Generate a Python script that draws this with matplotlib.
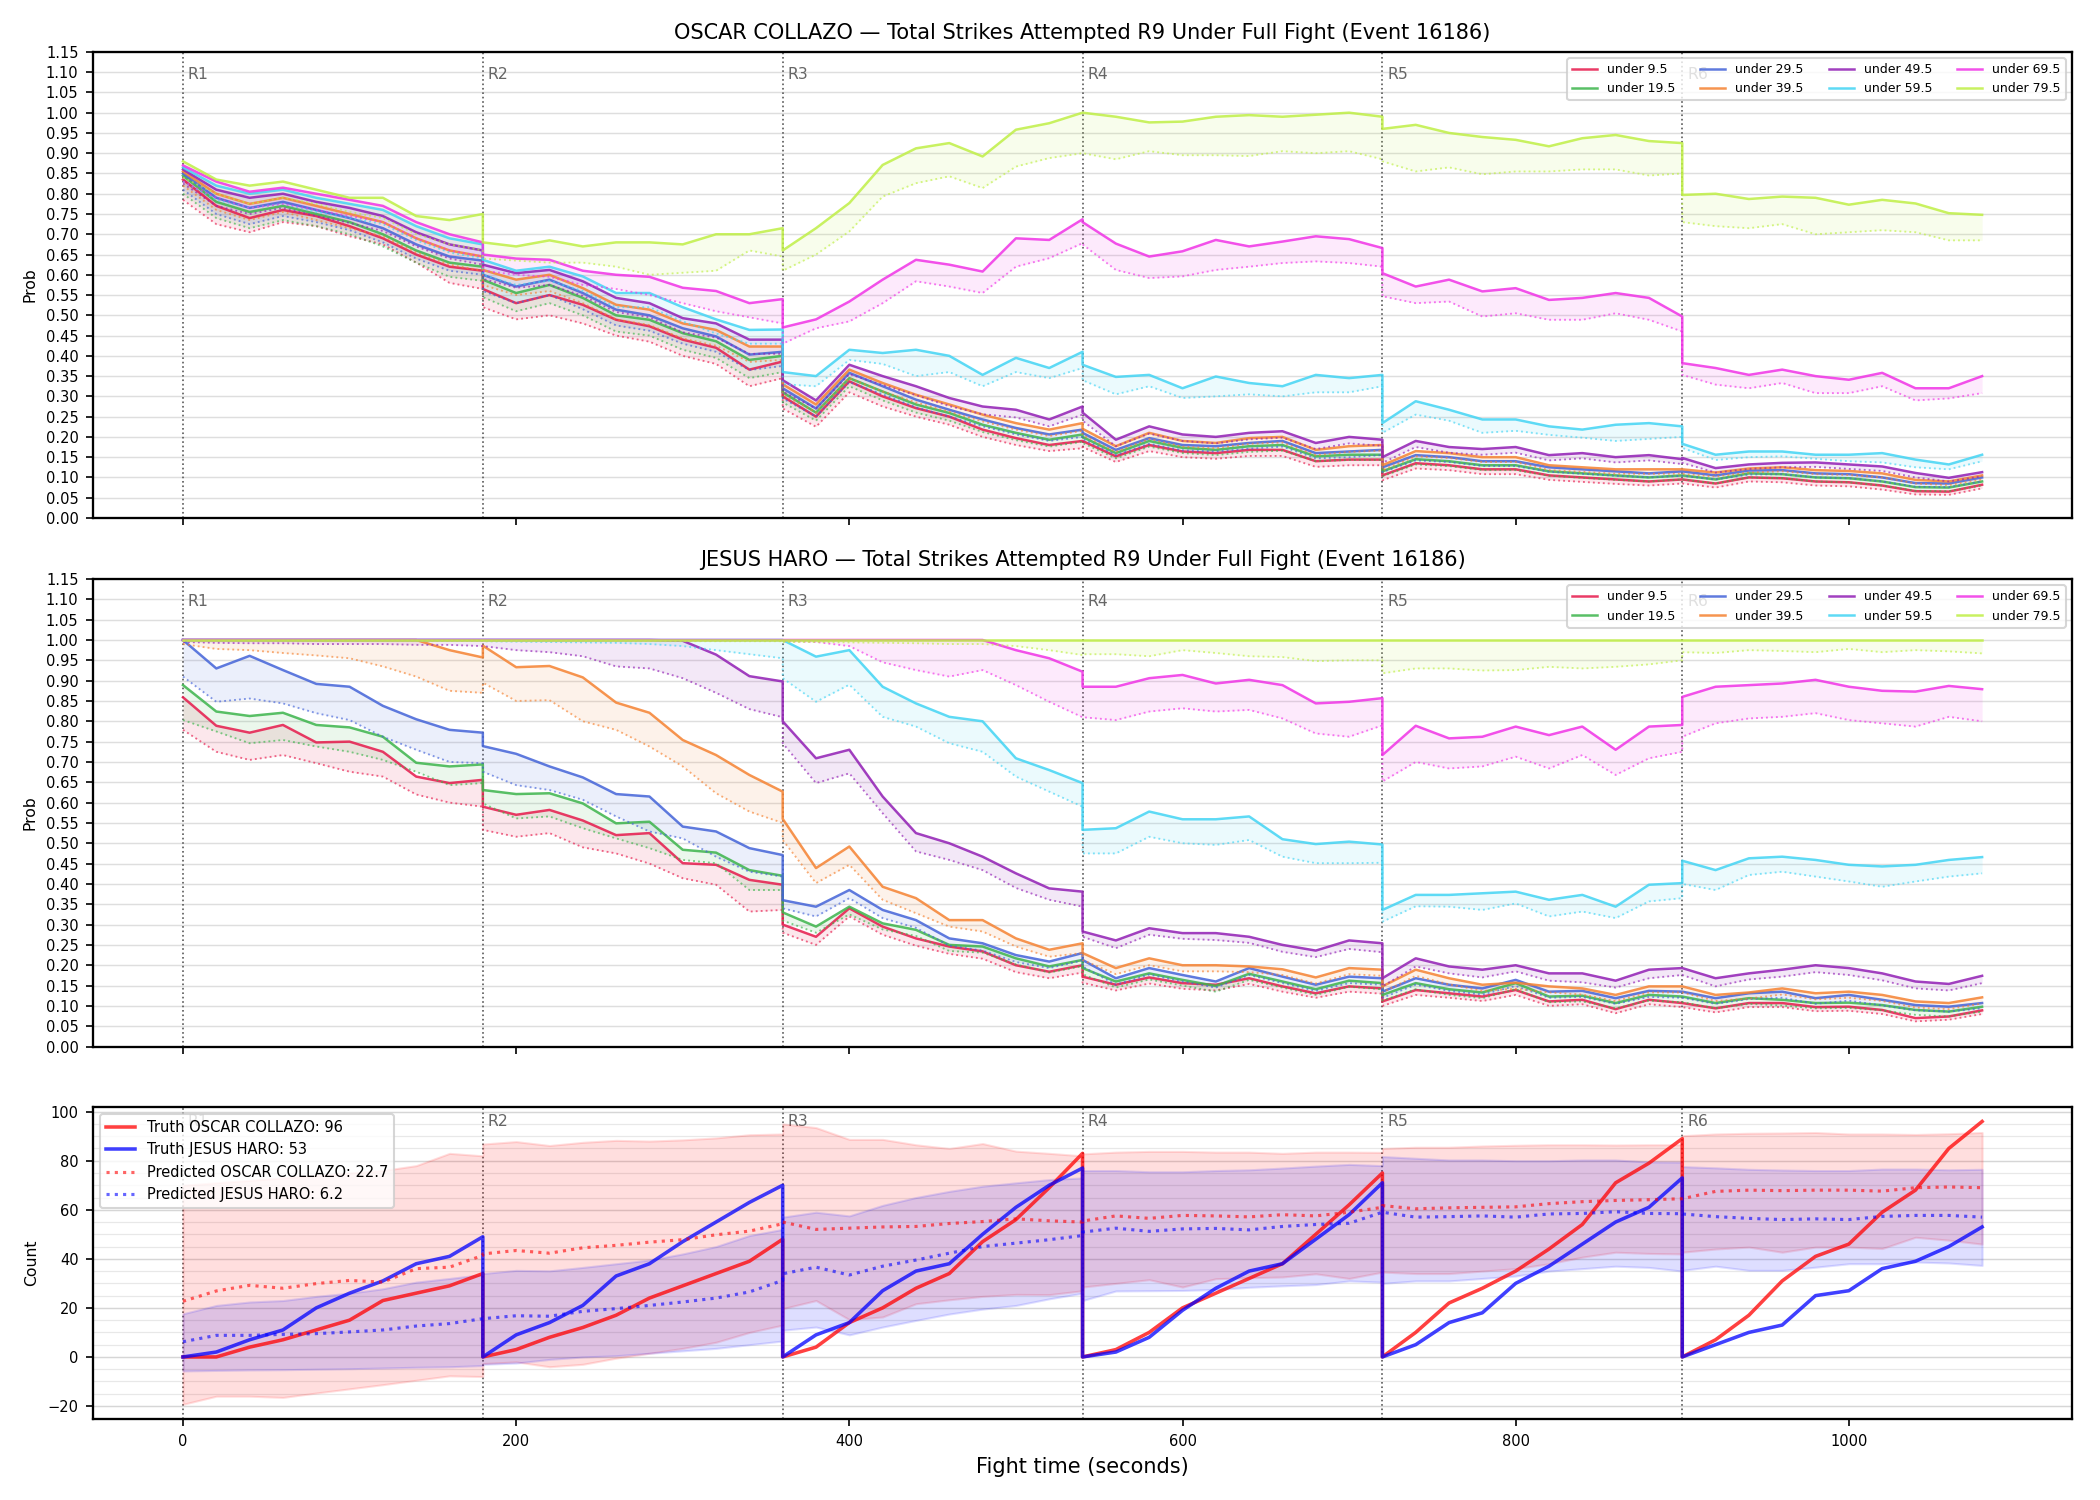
import numpy as np
import matplotlib.pyplot as plt
from matplotlib.ticker import MultipleLocator, FormatStrFormatter

round_starts = [0, 180, 360, 540, 720, 900]
round_names = ['R1', 'R2', 'R3', 'R4', 'R5', 'R6']
secs_in_round = [0, 20, 40, 60, 80, 100, 120, 140, 160, 180]

line_labels = ['under 9.5', 'under 19.5', 'under 29.5', 'under 39.5',
               'under 49.5', 'under 59.5', 'under 69.5', 'under 79.5']
line_colors = ['#e6194b', '#3cb44b', '#4363d8', '#f58231',
               '#911eb4', '#42d4f4', '#f032e6', '#bfef45']

# ---------------- OSCAR COLLAZO (line + dotted lower bound) ----------------
oc_u09 = [0.835, 0.77, 0.74, 0.76, 0.745, 0.72, 0.69, 0.65, 0.62, 0.61,
          0.565, 0.53, 0.55, 0.526, 0.489, 0.473, 0.44, 0.42, 0.366, 0.386,
          0.30, 0.25, 0.337, 0.30, 0.271, 0.25, 0.218, 0.197, 0.18, 0.19,
          0.19, 0.152, 0.18, 0.164, 0.16, 0.168, 0.168, 0.14, 0.144, 0.144,
          0.105, 0.135, 0.13, 0.12, 0.12, 0.105, 0.10, 0.095, 0.09, 0.095,
          0.095, 0.085, 0.10, 0.098, 0.09, 0.088, 0.08, 0.066, 0.065, 0.082]
oc_u09_lo = [0.785, 0.725, 0.705, 0.73, 0.72, 0.695, 0.675, 0.63, 0.58, 0.565,
             0.52, 0.49, 0.50, 0.48, 0.45, 0.435, 0.40, 0.38, 0.325, 0.345,
             0.27, 0.225, 0.31, 0.275, 0.25, 0.23, 0.20, 0.18, 0.165, 0.172,
             0.175, 0.138, 0.165, 0.15, 0.146, 0.153, 0.153, 0.126, 0.13, 0.13,
             0.093, 0.122, 0.118, 0.108, 0.108, 0.094, 0.089, 0.084, 0.08, 0.085,
             0.085, 0.075, 0.09, 0.088, 0.08, 0.078, 0.07, 0.058, 0.057, 0.073]
oc_u19 = [0.845, 0.78, 0.755, 0.77, 0.75, 0.73, 0.70, 0.66, 0.63, 0.62,
          0.588, 0.555, 0.575, 0.543, 0.50, 0.489, 0.456, 0.436, 0.39, 0.40,
          0.31, 0.26, 0.345, 0.312, 0.28, 0.259, 0.23, 0.21, 0.193, 0.206,
          0.20, 0.16, 0.19, 0.173, 0.168, 0.177, 0.18, 0.152, 0.156, 0.156,
          0.115, 0.145, 0.14, 0.13, 0.13, 0.115, 0.11, 0.105, 0.10, 0.105,
          0.105, 0.095, 0.11, 0.108, 0.10, 0.098, 0.09, 0.076, 0.075, 0.09]
oc_u19_lo = [0.80, 0.74, 0.715, 0.735, 0.72, 0.70, 0.67, 0.63, 0.595, 0.585,
             0.545, 0.51, 0.53, 0.50, 0.46, 0.45, 0.415, 0.395, 0.345, 0.36,
             0.285, 0.24, 0.325, 0.29, 0.26, 0.24, 0.212, 0.192, 0.176, 0.188,
             0.185, 0.147, 0.176, 0.16, 0.155, 0.163, 0.166, 0.14, 0.143, 0.143,
             0.103, 0.132, 0.128, 0.118, 0.118, 0.104, 0.099, 0.094, 0.09, 0.095,
             0.095, 0.085, 0.10, 0.098, 0.09, 0.088, 0.08, 0.067, 0.066, 0.08]
oc_u29 = [0.85, 0.79, 0.765, 0.78, 0.76, 0.74, 0.715, 0.675, 0.645, 0.635,
          0.60, 0.571, 0.588, 0.555, 0.514, 0.50, 0.468, 0.448, 0.403, 0.41,
          0.32, 0.27, 0.358, 0.325, 0.292, 0.267, 0.243, 0.222, 0.206, 0.218,
          0.21, 0.168, 0.197, 0.18, 0.177, 0.185, 0.19, 0.16, 0.164, 0.168,
          0.125, 0.155, 0.15, 0.14, 0.14, 0.125, 0.12, 0.115, 0.11, 0.115,
          0.115, 0.105, 0.117, 0.118, 0.11, 0.108, 0.10, 0.086, 0.085, 0.10]
oc_u29_lo = [0.81, 0.75, 0.725, 0.745, 0.73, 0.71, 0.68, 0.64, 0.61, 0.60,
             0.56, 0.53, 0.55, 0.515, 0.475, 0.462, 0.43, 0.41, 0.365, 0.375,
             0.295, 0.25, 0.335, 0.305, 0.273, 0.25, 0.226, 0.206, 0.19, 0.20,
             0.195, 0.155, 0.183, 0.167, 0.164, 0.171, 0.176, 0.147, 0.15, 0.155,
             0.113, 0.142, 0.138, 0.128, 0.128, 0.114, 0.109, 0.104, 0.10, 0.104,
             0.104, 0.095, 0.107, 0.108, 0.10, 0.098, 0.09, 0.077, 0.076, 0.09]
oc_u39 = [0.855, 0.80, 0.775, 0.79, 0.77, 0.75, 0.73, 0.69, 0.66, 0.645,
          0.612, 0.588, 0.60, 0.567, 0.526, 0.514, 0.48, 0.464, 0.423, 0.423,
          0.33, 0.28, 0.366, 0.333, 0.304, 0.28, 0.255, 0.234, 0.218, 0.234,
          0.22, 0.177, 0.21, 0.19, 0.185, 0.197, 0.20, 0.168, 0.177, 0.18,
          0.13, 0.165, 0.16, 0.15, 0.15, 0.13, 0.125, 0.12, 0.12, 0.12,
          0.12, 0.112, 0.122, 0.125, 0.118, 0.116, 0.11, 0.094, 0.09, 0.105]
oc_u39_lo = [0.82, 0.76, 0.735, 0.755, 0.735, 0.715, 0.695, 0.655, 0.625, 0.61,
             0.575, 0.55, 0.56, 0.53, 0.49, 0.476, 0.443, 0.425, 0.385, 0.39,
             0.305, 0.26, 0.345, 0.312, 0.285, 0.262, 0.238, 0.218, 0.202, 0.215,
             0.205, 0.163, 0.195, 0.176, 0.172, 0.183, 0.186, 0.155, 0.163, 0.166,
             0.118, 0.152, 0.148, 0.138, 0.138, 0.118, 0.114, 0.109, 0.109, 0.109,
             0.109, 0.102, 0.112, 0.115, 0.108, 0.106, 0.10, 0.085, 0.081, 0.095]
oc_u49 = [0.86, 0.81, 0.79, 0.80, 0.78, 0.765, 0.745, 0.705, 0.675, 0.66,
          0.625, 0.604, 0.612, 0.584, 0.543, 0.53, 0.493, 0.48, 0.44, 0.44,
          0.34, 0.29, 0.378, 0.35, 0.325, 0.296, 0.275, 0.267, 0.243, 0.275,
          0.26, 0.193, 0.226, 0.206, 0.20, 0.21, 0.214, 0.185, 0.20, 0.193,
          0.15, 0.19, 0.175, 0.17, 0.175, 0.155, 0.16, 0.15, 0.155, 0.145,
          0.148, 0.123, 0.132, 0.136, 0.137, 0.132, 0.127, 0.111, 0.099, 0.113]
oc_u49_lo = [0.825, 0.77, 0.75, 0.765, 0.745, 0.728, 0.708, 0.67, 0.64, 0.625,
             0.59, 0.568, 0.575, 0.548, 0.508, 0.495, 0.458, 0.445, 0.405, 0.405,
             0.312, 0.27, 0.355, 0.328, 0.303, 0.276, 0.256, 0.248, 0.226, 0.255,
             0.24, 0.177, 0.208, 0.19, 0.184, 0.194, 0.198, 0.17, 0.184, 0.178,
             0.136, 0.175, 0.161, 0.156, 0.161, 0.142, 0.147, 0.137, 0.142, 0.133,
             0.136, 0.112, 0.121, 0.125, 0.126, 0.121, 0.116, 0.10, 0.09, 0.103]
oc_u59 = [0.865, 0.82, 0.80, 0.81, 0.79, 0.775, 0.76, 0.72, 0.69, 0.675,
          0.637, 0.61, 0.62, 0.596, 0.555, 0.555, 0.52, 0.49, 0.464, 0.465,
          0.36, 0.35, 0.415, 0.407, 0.415, 0.40, 0.353, 0.395, 0.37, 0.41,
          0.378, 0.348, 0.353, 0.32, 0.349, 0.333, 0.325, 0.353, 0.345, 0.353,
          0.234, 0.288, 0.267, 0.243, 0.243, 0.226, 0.218, 0.23, 0.234, 0.226,
          0.183, 0.156, 0.164, 0.164, 0.156, 0.156, 0.16, 0.144, 0.132, 0.156]
oc_u59_lo = [0.83, 0.785, 0.765, 0.775, 0.755, 0.74, 0.725, 0.685, 0.655, 0.64,
             0.60, 0.575, 0.585, 0.56, 0.52, 0.52, 0.485, 0.455, 0.43, 0.43,
             0.33, 0.325, 0.39, 0.38, 0.35, 0.36, 0.325, 0.36, 0.345, 0.37,
             0.34, 0.305, 0.325, 0.296, 0.30, 0.305, 0.30, 0.31, 0.31, 0.325,
             0.21, 0.255, 0.24, 0.21, 0.215, 0.205, 0.198, 0.19, 0.195, 0.20,
             0.173, 0.143, 0.15, 0.152, 0.146, 0.14, 0.137, 0.125, 0.12, 0.14]
oc_u69 = [0.87, 0.83, 0.805, 0.815, 0.80, 0.785, 0.77, 0.73, 0.70, 0.68,
          0.65, 0.64, 0.637, 0.61, 0.60, 0.595, 0.568, 0.56, 0.53, 0.54,
          0.47, 0.49, 0.534, 0.588, 0.637, 0.625, 0.608, 0.69, 0.686, 0.737,
          0.73, 0.677, 0.645, 0.658, 0.686, 0.67, 0.682, 0.695, 0.688, 0.666,
          0.604, 0.571, 0.588, 0.559, 0.567, 0.538, 0.543, 0.555, 0.543, 0.497,
          0.382, 0.37, 0.353, 0.366, 0.35, 0.341, 0.358, 0.32, 0.32, 0.35]
oc_u69_lo = [0.83, 0.79, 0.765, 0.775, 0.76, 0.745, 0.73, 0.69, 0.66, 0.645,
             0.61, 0.60, 0.595, 0.575, 0.565, 0.55, 0.53, 0.51, 0.495, 0.48,
             0.43, 0.468, 0.485, 0.53, 0.584, 0.571, 0.555, 0.62, 0.641, 0.678,
             0.675, 0.612, 0.592, 0.596, 0.612, 0.62, 0.629, 0.633, 0.629, 0.62,
             0.547, 0.53, 0.534, 0.497, 0.505, 0.489, 0.489, 0.505, 0.489, 0.46,
             0.353, 0.329, 0.32, 0.333, 0.308, 0.308, 0.325, 0.29, 0.295, 0.308]
oc_u79 = [0.88, 0.835, 0.82, 0.83, 0.81, 0.79, 0.79, 0.745, 0.735, 0.75,
          0.68, 0.67, 0.685, 0.67, 0.68, 0.68, 0.675, 0.70, 0.70, 0.715,
          0.66, 0.715, 0.777, 0.871, 0.912, 0.925, 0.892, 0.958, 0.974, 1.0,
          1.0, 0.99, 0.976, 0.978, 0.99, 0.994, 0.99, 0.995, 1.0, 0.99,
          0.96, 0.97, 0.95, 0.94, 0.933, 0.917, 0.937, 0.945, 0.93, 0.925,
          0.797, 0.80, 0.787, 0.793, 0.79, 0.773, 0.785, 0.776, 0.752, 0.748]
oc_u79_lo = [0.84, 0.80, 0.775, 0.79, 0.775, 0.755, 0.74, 0.70, 0.675, 0.66,
             0.64, 0.635, 0.63, 0.63, 0.62, 0.60, 0.605, 0.61, 0.66, 0.645,
             0.61, 0.65, 0.707, 0.793, 0.826, 0.843, 0.814, 0.867, 0.888, 0.90,
             0.90, 0.885, 0.905, 0.895, 0.895, 0.893, 0.905, 0.90, 0.905, 0.885,
             0.88, 0.855, 0.865, 0.848, 0.855, 0.855, 0.86, 0.86, 0.845, 0.85,
             0.73, 0.72, 0.715, 0.725, 0.70, 0.705, 0.71, 0.705, 0.685, 0.685]

# ---------------- JESUS HARO ----------------
jh_u09 = [0.859, 0.789, 0.772, 0.791, 0.748, 0.75, 0.725, 0.664, 0.648, 0.656,
          0.59, 0.57, 0.582, 0.556, 0.52, 0.525, 0.451, 0.447, 0.41, 0.398,
          0.30, 0.27, 0.34, 0.295, 0.266, 0.246, 0.234, 0.20, 0.184, 0.20,
          0.172, 0.152, 0.17, 0.156, 0.152, 0.168, 0.148, 0.131, 0.148, 0.143,
          0.111, 0.139, 0.131, 0.123, 0.139, 0.111, 0.115, 0.092, 0.115, 0.107,
          0.107, 0.094, 0.107, 0.107, 0.097, 0.098, 0.09, 0.07, 0.074, 0.089]
jh_u09_lo = [0.779, 0.725, 0.705, 0.717, 0.697, 0.676, 0.664, 0.62, 0.60, 0.59,
             0.533, 0.516, 0.525, 0.49, 0.475, 0.45, 0.414, 0.398, 0.332, 0.336,
             0.28, 0.25, 0.32, 0.275, 0.248, 0.228, 0.216, 0.183, 0.168, 0.182,
             0.157, 0.138, 0.155, 0.142, 0.138, 0.154, 0.135, 0.12, 0.135, 0.13,
             0.10, 0.127, 0.12, 0.112, 0.127, 0.10, 0.104, 0.082, 0.104, 0.097,
             0.097, 0.084, 0.097, 0.097, 0.087, 0.088, 0.08, 0.062, 0.066, 0.08]
jh_u19 = [0.889, 0.824, 0.813, 0.821, 0.791, 0.785, 0.762, 0.698, 0.689, 0.694,
          0.631, 0.621, 0.623, 0.598, 0.549, 0.553, 0.484, 0.477, 0.434, 0.42,
          0.33, 0.295, 0.344, 0.303, 0.287, 0.25, 0.246, 0.217, 0.197, 0.213,
          0.193, 0.16, 0.18, 0.164, 0.149, 0.179, 0.16, 0.141, 0.162, 0.156,
          0.127, 0.156, 0.141, 0.133, 0.156, 0.123, 0.125, 0.107, 0.127, 0.123,
          0.123, 0.107, 0.119, 0.115, 0.107, 0.108, 0.102, 0.09, 0.086, 0.098]
jh_u19_lo = [0.803, 0.775, 0.746, 0.754, 0.738, 0.725, 0.705, 0.676, 0.643, 0.648,
             0.598, 0.561, 0.566, 0.537, 0.512, 0.488, 0.459, 0.451, 0.385, 0.385,
             0.31, 0.28, 0.325, 0.288, 0.272, 0.235, 0.231, 0.202, 0.182, 0.198,
             0.178, 0.145, 0.165, 0.15, 0.135, 0.164, 0.145, 0.127, 0.147, 0.141,
             0.113, 0.141, 0.127, 0.119, 0.141, 0.109, 0.111, 0.094, 0.113, 0.109,
             0.109, 0.094, 0.105, 0.101, 0.094, 0.095, 0.089, 0.078, 0.074, 0.086]
jh_u29 = [1.0, 0.93, 0.961, 0.926, 0.892, 0.885, 0.838, 0.805, 0.779, 0.772,
          0.739, 0.72, 0.689, 0.662, 0.621, 0.615, 0.541, 0.529, 0.488, 0.471,
          0.36, 0.344, 0.385, 0.336, 0.311, 0.266, 0.254, 0.225, 0.209, 0.23,
          0.213, 0.168, 0.193, 0.176, 0.16, 0.193, 0.172, 0.152, 0.172, 0.168,
          0.135, 0.168, 0.152, 0.143, 0.164, 0.135, 0.137, 0.119, 0.137, 0.135,
          0.135, 0.119, 0.131, 0.135, 0.119, 0.127, 0.115, 0.102, 0.098, 0.107]
jh_u29_lo = [0.91, 0.848, 0.856, 0.844, 0.82, 0.803, 0.762, 0.73, 0.70, 0.697,
             0.676, 0.643, 0.631, 0.607, 0.566, 0.529, 0.512, 0.467, 0.43, 0.418,
             0.34, 0.32, 0.365, 0.316, 0.292, 0.248, 0.236, 0.208, 0.193, 0.212,
             0.197, 0.152, 0.177, 0.16, 0.145, 0.176, 0.156, 0.137, 0.156, 0.152,
             0.12, 0.152, 0.137, 0.128, 0.149, 0.12, 0.122, 0.105, 0.122, 0.12,
             0.12, 0.105, 0.117, 0.12, 0.105, 0.113, 0.101, 0.089, 0.086, 0.094]
jh_u39 = [1.0, 1.0, 1.0, 1.0, 1.0, 1.0, 1.0, 1.0, 0.975, 0.957,
          0.986, 0.933, 0.936, 0.908, 0.846, 0.821, 0.754, 0.717, 0.668, 0.627,
          0.56, 0.439, 0.492, 0.393, 0.365, 0.311, 0.311, 0.266, 0.238, 0.254,
          0.23, 0.193, 0.217, 0.20, 0.20, 0.197, 0.19, 0.17, 0.193, 0.189,
          0.148, 0.189, 0.168, 0.152, 0.157, 0.148, 0.143, 0.127, 0.148, 0.148,
          0.148, 0.127, 0.133, 0.143, 0.131, 0.135, 0.127, 0.111, 0.107, 0.121]
jh_u39_lo = [0.99, 0.978, 0.975, 0.968, 0.962, 0.955, 0.935, 0.91, 0.875, 0.87,
             0.895, 0.85, 0.852, 0.80, 0.779, 0.738, 0.689, 0.623, 0.578, 0.55,
             0.508, 0.402, 0.447, 0.361, 0.328, 0.295, 0.283, 0.246, 0.221, 0.23,
             0.213, 0.178, 0.20, 0.185, 0.185, 0.183, 0.176, 0.155, 0.178, 0.174,
             0.133, 0.174, 0.153, 0.137, 0.142, 0.133, 0.128, 0.112, 0.133, 0.133,
             0.133, 0.112, 0.118, 0.128, 0.116, 0.12, 0.112, 0.096, 0.092, 0.106]
jh_u49 = [1.0, 1.0, 1.0, 1.0, 1.0, 1.0, 1.0, 1.0, 1.0, 1.0,
          1.0, 1.0, 1.0, 1.0, 1.0, 1.0, 0.998, 0.964, 0.911, 0.898,
          0.80, 0.709, 0.73, 0.615, 0.525, 0.50, 0.467, 0.426, 0.389, 0.381,
          0.283, 0.261, 0.291, 0.279, 0.279, 0.27, 0.25, 0.236, 0.261, 0.254,
          0.168, 0.217, 0.197, 0.189, 0.20, 0.18, 0.18, 0.162, 0.189, 0.193,
          0.193, 0.168, 0.18, 0.189, 0.20, 0.193, 0.18, 0.16, 0.154, 0.174]
jh_u49_lo = [0.995, 0.993, 0.992, 0.992, 0.99, 0.99, 0.99, 0.988, 0.988, 0.985,
             0.985, 0.975, 0.97, 0.96, 0.935, 0.93, 0.906, 0.87, 0.83, 0.81,
             0.746, 0.648, 0.672, 0.574, 0.48, 0.459, 0.434, 0.39, 0.361, 0.344,
             0.27, 0.242, 0.275, 0.265, 0.262, 0.255, 0.233, 0.22, 0.24, 0.232,
             0.148, 0.197, 0.18, 0.17, 0.185, 0.162, 0.158, 0.145, 0.168, 0.176,
             0.176, 0.148, 0.165, 0.172, 0.183, 0.176, 0.163, 0.143, 0.138, 0.156]
jh_u59 = [1.0, 1.0, 1.0, 1.0, 1.0, 1.0, 1.0, 1.0, 1.0, 1.0,
          1.0, 1.0, 1.0, 1.0, 1.0, 1.0, 1.0, 1.0, 1.0, 1.0,
          1.0, 0.959, 0.975, 0.885, 0.844, 0.811, 0.80, 0.709, 0.68, 0.648,
          0.533, 0.537, 0.578, 0.559, 0.559, 0.566, 0.51, 0.498, 0.504, 0.497,
          0.336, 0.373, 0.373, 0.377, 0.381, 0.361, 0.373, 0.344, 0.398, 0.402,
          0.457, 0.434, 0.463, 0.467, 0.459, 0.447, 0.443, 0.447, 0.459, 0.466]
jh_u59_lo = [0.998, 0.998, 0.998, 0.998, 0.998, 0.998, 0.998, 0.998, 0.998, 0.998,
             0.997, 0.996, 0.995, 0.994, 0.993, 0.99, 0.985, 0.975, 0.965, 0.955,
             0.906, 0.848, 0.89, 0.811, 0.787, 0.746, 0.725, 0.664, 0.627, 0.59,
             0.475, 0.475, 0.516, 0.50, 0.496, 0.508, 0.467, 0.451, 0.451, 0.452,
             0.307, 0.345, 0.344, 0.336, 0.352, 0.32, 0.332, 0.316, 0.357, 0.365,
             0.40, 0.385, 0.422, 0.43, 0.418, 0.406, 0.393, 0.406, 0.418, 0.426]
jh_u69 = [1.0, 1.0, 1.0, 1.0, 1.0, 1.0, 1.0, 1.0, 1.0, 1.0,
          1.0, 1.0, 1.0, 1.0, 1.0, 1.0, 1.0, 1.0, 1.0, 1.0,
          1.0, 1.0, 1.0, 1.0, 1.0, 1.0, 1.0, 0.975, 0.955, 0.922,
          0.885, 0.885, 0.906, 0.914, 0.893, 0.902, 0.889, 0.844, 0.848, 0.857,
          0.717, 0.789, 0.758, 0.762, 0.787, 0.766, 0.787, 0.73, 0.787, 0.791,
          0.86, 0.885, 0.889, 0.893, 0.902, 0.885, 0.875, 0.873, 0.887, 0.879]
jh_u69_lo = [0.998, 0.998, 0.998, 0.998, 0.998, 0.998, 0.998, 0.998, 0.998, 0.998,
             0.998, 0.998, 0.998, 0.998, 0.998, 0.998, 0.998, 0.998, 0.998, 0.998,
             0.997, 0.995, 0.985, 0.945, 0.926, 0.91, 0.926, 0.889, 0.848, 0.81,
             0.81, 0.803, 0.824, 0.832, 0.824, 0.828, 0.807, 0.77, 0.762, 0.79,
             0.652, 0.70, 0.684, 0.689, 0.713, 0.684, 0.717, 0.668, 0.709, 0.725,
             0.762, 0.795, 0.807, 0.811, 0.82, 0.803, 0.795, 0.787, 0.811, 0.80]
jh_u79 = [1.0, 1.0, 1.0, 1.0, 1.0, 1.0, 1.0, 1.0, 1.0, 1.0,
          1.0, 1.0, 1.0, 1.0, 1.0, 1.0, 1.0, 1.0, 1.0, 1.0,
          1.0, 1.0, 1.0, 1.0, 1.0, 1.0, 1.0, 1.0, 1.0, 1.0,
          1.0, 1.0, 1.0, 1.0, 1.0, 1.0, 1.0, 1.0, 1.0, 1.0,
          1.0, 1.0, 1.0, 1.0, 1.0, 1.0, 1.0, 1.0, 1.0, 1.0,
          1.0, 1.0, 1.0, 1.0, 1.0, 1.0, 1.0, 1.0, 1.0, 1.0]
jh_u79_lo = [0.998, 0.998, 0.998, 0.998, 0.998, 0.998, 0.998, 0.998, 0.998, 0.998,
             0.997, 0.997, 0.997, 0.997, 0.997, 0.997, 0.997, 0.997, 0.997, 0.997,
             0.995, 0.995, 0.994, 0.993, 0.992, 0.99, 0.99, 0.985, 0.975, 0.963,
             0.965, 0.965, 0.96, 0.975, 0.968, 0.96, 0.958, 0.948, 0.95, 0.95,
             0.918, 0.93, 0.93, 0.925, 0.926, 0.934, 0.93, 0.934, 0.94, 0.95,
             0.97, 0.968, 0.975, 0.973, 0.97, 0.978, 0.97, 0.975, 0.972, 0.967]

# ---------------- strike counts ----------------
truth_oc = [0, 0, 4, 7, 11, 15, 23, 26, 29, 34,
            0, 3, 8, 12, 17, 24, 29, 34, 39, 48,
            0, 4, 14, 20, 28, 34, 47, 56, 69, 83,
            0, 3, 10, 20, 26, 32, 38, 50, 62, 75,
            0, 10, 22, 28, 35, 44, 54, 71, 79, 89,
            0, 7, 17, 31, 41, 46, 59, 68, 85, 96]
truth_jh = [0, 2, 7, 11, 20, 26, 31, 38, 41, 49,
            0, 9, 14, 21, 33, 38, 47, 55, 63, 70,
            0, 9, 14, 27, 35, 38, 50, 61, 70, 77,
            0, 2, 8, 19, 28, 35, 38, 48, 58, 71,
            0, 5, 14, 18, 30, 37, 46, 55, 61, 73,
            0, 5, 10, 13, 25, 27, 36, 39, 45, 53]
pred_oc = [22.7, 26.9, 29.2, 28.0, 29.9, 31.2, 30.5, 36.0, 36.6, 41.4,
           42.0, 43.4, 42.3, 44.5, 45.5, 46.8, 47.8, 49.8, 51.3, 54.3,
           55.0, 52.0, 52.5, 53.0, 53.2, 54.4, 55.2, 56.3, 55.5, 55.0,
           55.4, 57.5, 56.5, 57.7, 57.5, 57.1, 58.0, 57.5, 59.0, 61.0,
           61.7, 60.4, 60.8, 61.0, 61.2, 62.5, 63.3, 63.8, 64.1, 64.5,
           64.5, 67.5, 68.0, 67.8, 68.0, 68.0, 67.6, 69.0, 69.3, 69.0]
pred_jh = [6.2, 8.8, 8.8, 9.2, 9.5, 10.2, 11.0, 12.6, 13.6, 15.6,
           15.6, 16.8, 16.6, 18.6, 19.7, 21.0, 22.4, 24.0, 26.5, 31.2,
           33.9, 36.6, 33.4, 37.0, 39.5, 42.3, 45.0, 46.4, 47.8, 49.5,
           50.9, 52.5, 51.2, 52.2, 52.4, 51.8, 53.2, 54.0, 54.5, 59.0,
           59.0, 57.0, 57.2, 57.5, 57.0, 58.3, 58.5, 59.2, 58.5, 58.4,
           58.3, 57.2, 56.5, 56.0, 56.3, 56.0, 57.3, 57.7, 57.7, 57.0]
band_oc_hi = [70, 71, 72, 73, 74, 75, 76, 78, 83, 82,
              86.8, 87.8, 86.2, 87.5, 88.3, 88, 88.5, 89.3, 90.6, 90.9,
              95, 93.5, 88.7, 88.7, 86.5, 85, 87, 83.9, 83, 82,
              82.8, 83.5, 83.8, 83.8, 83.5, 83.5, 83, 83.5, 83.5, 83.4,
              85, 85.5, 85.5, 86, 86.3, 86.5, 86.5, 86.4, 86.5, 86.5,
              90.2, 90.9, 91.2, 91.3, 91.5, 90.9, 90.9, 90.7, 91, 91.5]
band_oc_lo = [-19.3, -16, -16, -16.5, -14.7, -13, -11.3, -9.5, -7.7, -8,
              -2.7, -2, -4, -3, -0.5, 1.5, 3.5, 6, 10, 13,
              19.7, 23, 15.2, 16.3, 21.7, 23.3, 24.7, 25.5, 25.4, 27,
              28.5, 30, 31.5, 28.5, 31.9, 32.3, 32.6, 33.9, 32, 34.6,
              34.6, 34, 34, 35, 36, 38, 40.7, 42.7, 42.2, 42,
              42.7, 44, 44.8, 42.7, 44.8, 44.8, 44.2, 48.8, 47.6, 46]
band_jh_hi = [17.6, 21, 22.4, 23, 24.7, 26, 27.8, 30.5, 32, 33.6,
              34, 35.3, 35.1, 36.5, 38, 39.5, 42, 45, 49.5, 52,
              57, 59, 57.5, 61.8, 65, 67.5, 69.6, 71, 72.3, 73,
              76, 76, 75.5, 75.5, 76, 76.3, 77, 77.8, 78.5, 78,
              81.7, 81, 80.3, 80.3, 80, 80, 80.3, 80.3, 79.5, 79.4,
              77.6, 77.1, 76.5, 76.2, 76, 76, 76.6, 76.6, 76.3, 76.5]
band_jh_lo = [-5.7, -5.5, -5.3, -5.2, -5, -4.8, -4.5, -4.2, -4, -3.5,
              -3, -2.5, -1, 0, 0.5, 1.5, 2.5, 3.5, 5, 6.5,
              10.9, 12.2, 9, 12.2, 14.9, 17.5, 19.5, 21, 23.7, 26,
              23, 26.9, 27, 27.1, 27.5, 28.4, 29, 29.5, 31, 30.5,
              30, 31, 31, 32, 33, 35, 36, 37, 36.5, 35,
              35.3, 37, 35.3, 35.3, 36.6, 38, 38, 38.7, 38.3, 37.3]

oc_lines = [oc_u09, oc_u19, oc_u29, oc_u39, oc_u49, oc_u59, oc_u69, oc_u79]
oc_lows = [oc_u09_lo, oc_u19_lo, oc_u29_lo, oc_u39_lo, oc_u49_lo, oc_u59_lo, oc_u69_lo, oc_u79_lo]
jh_lines = [jh_u09, jh_u19, jh_u29, jh_u39, jh_u49, jh_u59, jh_u69, jh_u79]
jh_lows = [jh_u09_lo, jh_u19_lo, jh_u29_lo, jh_u39_lo, jh_u49_lo, jh_u59_lo, jh_u69_lo, jh_u79_lo]

t = np.concatenate([start + np.array(secs_in_round) for start in round_starts])


def mark_rounds(ax):
    for start, name in zip(round_starts, round_names):
        ax.axvline(start, color='0.35', ls=':', lw=0.8, zorder=1)
        ax.text(start + 3, 0.952, name, transform=ax.get_xaxis_transform(),
                color='0.4', fontsize=7.5, ha='left', va='center', zorder=1)


def prob_panel(ax, lines, lows, title):
    mark_rounds(ax)
    for vals, lo, lab, col in zip(lines, lows, line_labels, line_colors):
        ax.fill_between(t, lo, vals, color=col, alpha=0.1, lw=0)
        ax.plot(t, lo, ls=':', color=col, lw=0.9, alpha=0.65)
        ax.plot(t, vals, color=col, lw=1.2, alpha=0.85, label=lab)
    ax.set_ylim(0, 1.15)
    ax.yaxis.set_major_locator(MultipleLocator(0.05))
    ax.yaxis.set_major_formatter(FormatStrFormatter('%.2f'))
    ax.grid(axis='y', color='0.87', lw=0.7)
    ax.set_axisbelow(True)
    ax.set_ylabel('Prob', fontsize=7.5)
    ax.set_title(title, fontsize=10)
    ax.legend(loc='upper right', ncol=4, fontsize=6, framealpha=0.8)
    ax.tick_params(labelbottom=False, labelsize=7)


fig = plt.figure(figsize=(14, 10), dpi=150)
ax1 = fig.add_axes([0.0443, 0.6547, 0.9424, 0.3107])
ax2 = fig.add_axes([0.0443, 0.3023, 0.9424, 0.3117])
ax3 = fig.add_axes([0.0443, 0.054, 0.9424, 0.208])

prob_panel(ax1, oc_lines, oc_lows,
           'OSCAR COLLAZO — Total Strikes Attempted R9 Under Full Fight (Event 16186)')
prob_panel(ax2, jh_lines, jh_lows,
           'JESUS HARO — Total Strikes Attempted R9 Under Full Fight (Event 16186)')

mark_rounds(ax3)
ax3.fill_between(t, band_oc_lo, band_oc_hi, color='red', alpha=0.13)
ax3.fill_between(t, band_jh_lo, band_jh_hi, color='blue', alpha=0.13)
ax3.plot(t, truth_oc, color='red', lw=1.7, alpha=0.75,
         label=f'Truth OSCAR COLLAZO: {truth_oc[-1]}')
ax3.plot(t, truth_jh, color='blue', lw=1.7, alpha=0.75,
         label=f'Truth JESUS HARO: {truth_jh[-1]}')
ax3.plot(t, pred_oc, color='red', ls=':', lw=1.5, alpha=0.6,
         label=f'Predicted OSCAR COLLAZO: {pred_oc[0]:.1f}')
ax3.plot(t, pred_jh, color='blue', ls=':', lw=1.5, alpha=0.6,
         label=f'Predicted JESUS HARO: {pred_jh[0]:.1f}')
ax3.set_ylim(-25.3, 101.9)
ax3.yaxis.set_major_locator(MultipleLocator(20))
ax3.yaxis.set_minor_locator(MultipleLocator(5))
ax3.grid(axis='y', which='major', color='0.84', lw=0.7)
ax3.grid(axis='y', which='minor', color='0.91', lw=0.6)
ax3.set_axisbelow(True)
ax3.tick_params(which='minor', length=0)
ax3.tick_params(labelsize=7)
ax3.set_ylabel('Count', fontsize=7.5)
ax3.set_xlabel('Fight time (seconds)', fontsize=10)
ax3.legend(loc='upper left', fontsize=7, framealpha=0.8)

for ax in (ax1, ax2, ax3):
    ax.set_xlim(-54, 1134)
    ax.xaxis.set_major_locator(MultipleLocator(200))
    for sp in ax.spines.values():
        sp.set_linewidth(1.1)

fig.savefig('out.png', dpi=150)
